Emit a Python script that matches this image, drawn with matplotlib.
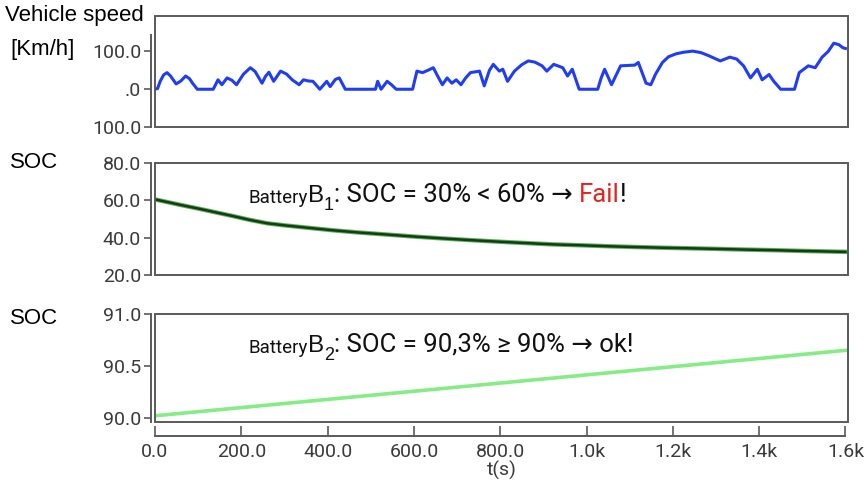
import matplotlib
matplotlib.use("Agg")
import matplotlib.pyplot as plt
from matplotlib.patches import Rectangle

# ---------------- data ----------------
speed_t = [0, 6, 12, 20, 28, 36, 49, 60, 71, 80, 87, 98, 135, 146, 155, 167, 178, 189, 205,
           221, 232, 248, 256, 264, 275, 291, 305, 318, 334, 344, 355, 366, 382, 398, 406,
           418, 427, 441, 511, 516, 524, 538, 548, 559, 597, 607, 620, 632, 645, 655, 666,
           677, 688, 698, 709, 720, 731, 752, 763, 775, 784, 798, 806, 817, 833, 850, 865,
           880, 897, 908, 924, 945, 956, 967, 983, 1026, 1034, 1042, 1058, 1079, 1112,
           1120, 1138, 1149, 1160, 1176, 1190, 1208, 1225, 1246, 1265, 1283, 1310, 1332,
           1348, 1364, 1380, 1396, 1407, 1423, 1434, 1450, 1482, 1493, 1514, 1530, 1546,
           1560, 1573, 1585, 1594, 1600]
speed_v = [0, 2, 21, 38, 44, 35, 14, 22, 35, 28, 16, 0, 0, 25, 12, 30, 24, 12, 40,
           57, 47, 16, 34, 45, 21, 48, 40, 25, 12, 25, 22, 21, 0, 21, 7,
           26, 30, 0, 0, 21, 0, 21, 12, 0, 0, 48, 44, 50, 57, 35, 12,
           30, 16, 25, 12, 30, 44, 48, 9, 50, 66, 48, 53, 21, 48, 65, 75,
           72, 62, 48, 66, 57, 35, 53, 0, 0, 30, 53, 12, 62, 64,
           71, 16, 12, 40, 71, 86, 94, 98, 101, 97, 89, 75, 85,
           80, 62, 30, 53, 25, 39, 21, 0, 0, 44, 62, 57, 85,
           100, 122, 118, 110, 108]

soc1_t = [0, 30, 60, 100, 140, 180, 220, 260, 300, 350, 410, 470, 530, 600, 666, 730,
          800, 860, 922, 990, 1050, 1110, 1178, 1240, 1300, 1370, 1434, 1500, 1560, 1600]
soc1_v = [60.5, 59.0, 57.5, 55.6, 53.6, 51.6, 49.5, 47.7, 46.6, 45.4, 44.0, 42.8, 41.8,
          40.6, 39.6, 38.7, 37.8, 37.1, 36.4, 35.9, 35.4, 35.0, 34.6, 34.3, 34.0, 33.6,
          33.3, 32.9, 32.6, 32.4]

soc2_t = [0, 1600]
soc2_v = [90.02, 90.65]

speed_ticks = [100, 0, -100]
speed_ticklabels = ["100.0", ".0", "100.0"]
soc1_ticks = [80, 60, 40, 20]
soc1_ticklabels = ["80.0", "60.0", "40.0", "20.0"]
soc2_ticks = [91.0, 90.5, 90.0]
soc2_ticklabels = ["91.0", "90.5", "90.0"]
x_ticks = [0, 200, 400, 600, 800, 1000, 1200, 1400, 1600]
x_ticklabels = ["0.0", "200.0", "400.0", "600.0", "800.0", "1.0k", "1.2k", "1.4k", "1.6k"]

# ---------------- style ----------------
NARROW = ["Roboto", "DejaVu Sans"]
REG = ["Liberation Sans", "DejaVu Sans"]
FRAME = "#5a5a5a"
TICKC = "#3a3a3a"
TICKFS = 14

W, H = 864, 496
fig = plt.figure(figsize=(W / 100, H / 100), dpi=100)


def fx(px):
    return px / W


def fy(py):
    return 1 - py / H


def make_ax(top, bottom):
    ax = fig.add_axes([fx(155), fy(bottom), fx(848) - fx(155), fy(top) - fy(bottom)])
    for s in ax.spines.values():
        s.set_visible(False)
    ax.add_patch(Rectangle((0, 0), 1, 1, transform=ax.transAxes, fill=False,
                           ec=FRAME, lw=1.4, clip_on=False, zorder=5))
    ax.spines["left"].set_visible(True)
    ax.spines["left"].set_position(("outward", 3))
    ax.spines["left"].set_color(FRAME)
    ax.spines["left"].set_linewidth(1.4)
    ax.tick_params(axis="y", direction="out", length=5, width=1.2, color=FRAME,
                   labelcolor=TICKC, pad=2)
    ax.set_xlim(0, 1606)
    return ax


# top panel: vehicle speed
ax1 = make_ax(16, 127)
ax1.set_ylim(-100, 194)
ax1.spines["left"].set_bounds(-100, 145)
ax1.plot(speed_t, speed_v, color="#1f3df5", lw=2.2, solid_joinstyle="round", zorder=3)
ax1.set_yticks(speed_ticks)
ax1.set_yticklabels(speed_ticklabels, family=NARROW, fontsize=TICKFS)
ax1.set_xticks([])

# middle panel: SOC battery 1
ax2 = make_ax(163, 275)
ax2.set_ylim(20, 80)
ax2.spines["left"].set_bounds(20, 80)
ax2.plot(soc1_t, soc1_v, color="#5fae5f", lw=3.2, zorder=3)
ax2.plot(soc1_t, soc1_v, color="#123f12", lw=1.8, zorder=4)
ax2.set_yticks(soc1_ticks)
ax2.set_yticklabels(soc1_ticklabels, family=NARROW, fontsize=TICKFS)
ax2.set_xticks([])

# bottom panel: SOC battery 2
ax3 = make_ax(314, 422)
ax3.set_ylim(89.96, 91.0)
ax3.spines["left"].set_bounds(89.96, 91.0)
ax3.plot(soc2_t, soc2_v, color="#86ec86", lw=2.6, zorder=3)
ax3.set_yticks(soc2_ticks)
ax3.set_yticklabels(soc2_ticklabels, family=NARROW, fontsize=TICKFS)
ax3.spines["bottom"].set_visible(True)
ax3.spines["bottom"].set_position(("outward", 10))
ax3.spines["bottom"].set_bounds(0, 1600)
ax3.spines["bottom"].set_color(FRAME)
ax3.spines["bottom"].set_linewidth(1.4)
ax3.set_xticks(x_ticks)
ax3.set_xticklabels(x_ticklabels, family=NARROW, fontsize=TICKFS)
ax3.tick_params(axis="x", direction="in", length=7, width=1.2, color=FRAME,
                labelcolor=TICKC, pad=5)
ax3.set_xlabel("t(s)", family=NARROW, fontsize=TICKFS, color=TICKC, labelpad=0)


# annotation texts built from chained pieces
def chain(ax, x, y, pieces):
    prev = None
    for txt, kw in pieces:
        dy = kw.pop("dy", 0)
        if prev is None:
            prev = ax.text(x, y, txt, transform=ax.transAxes, va="baseline", ha="left", **kw)
        else:
            prev = ax.annotate(txt, xy=(1, 0), xycoords=prev, xytext=(0, dy),
                               textcoords="offset points", va="bottom", ha="left", **kw)
    return prev


def battery_text(ax, y, sub, rest, red=None):
    big = 18.5
    pieces = [("Battery", dict(family=NARROW, fontsize=13.5, color="#111111")),
              ("B", dict(family=REG, fontsize=17.5, color="#111111")),
              (sub, dict(family=REG, fontsize=13, color="#111111", dy=-5)),
              (rest, dict(family=NARROW, fontsize=big, color="#111111", dy=5))]
    if red:
        pieces.append((red, dict(family=NARROW, fontsize=big, color="#e8231e")))
        pieces.append(("!", dict(family=NARROW, fontsize=big, color="#111111")))
    chain(ax, 0.135, y, pieces)


battery_text(ax2, 0.64, "1", ": SOC = 30% < 60% \u2192 ", red="Fail")
battery_text(ax3, 0.64, "2", ": SOC = 90,3% \u2265 90% \u2192 ok!")

# left labels
LFS = 16
fig.text(fx(5), fy(16), "Vehicle speed", family=REG, fontsize=LFS, va="center", ha="left")
fig.text(fx(10), fy(50), "[Km/h]", family=REG, fontsize=LFS, va="center", ha="left")
fig.text(fx(10), fy(163), "SOC", family=REG, fontsize=LFS, va="center", ha="left")
fig.text(fx(10), fy(318), "SOC", family=REG, fontsize=LFS, va="center", ha="left")

fig.savefig("out.png", dpi=100)
